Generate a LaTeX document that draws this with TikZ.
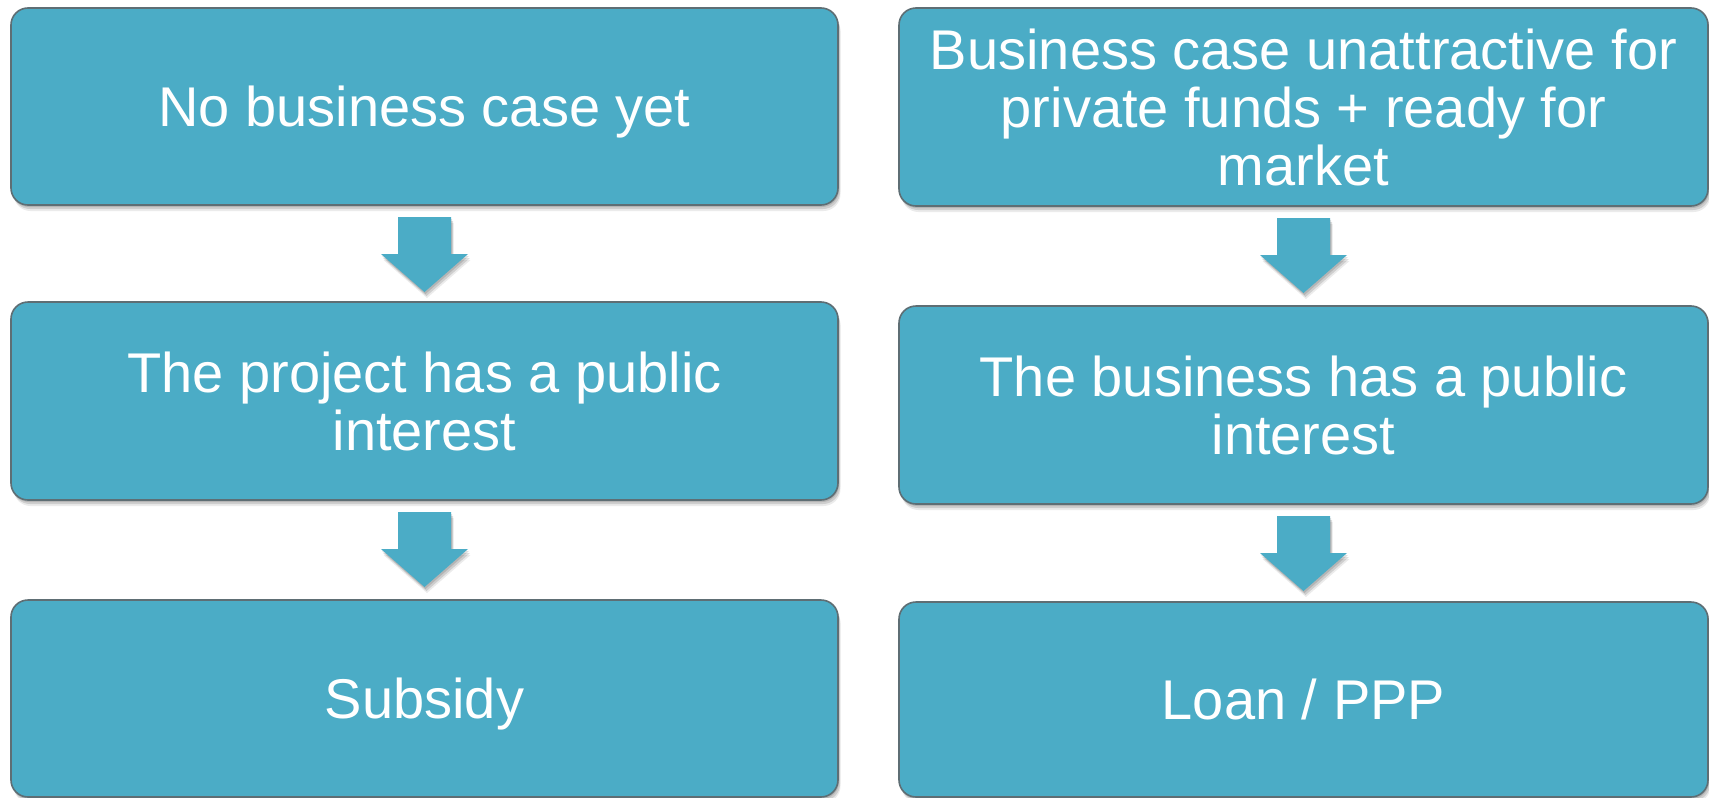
\documentclass[tikz,border=0pt]{standalone}
\usepackage{fontspec}
\setmainfont{Liberation Sans}
\usetikzlibrary{calc,shadows}
\definecolor{boxfill}{HTML}{4BACC6}
\definecolor{boxline}{HTML}{5E6E74}
\tikzset{
  softshadow/.style={
    general shadow={opacity=0.12, shadow xshift=1pt, shadow yshift=-2pt, fill=black},
    general shadow={opacity=0.12, shadow xshift=2pt, shadow yshift=-4pt, fill=black},
    general shadow={opacity=0.08, shadow xshift=2.5pt, shadow yshift=-6pt, fill=black}},
  flowbox/.style={draw=boxline, line width=1.6pt, fill=boxfill, rounded corners=17pt,
    outer sep=0pt, inner sep=0pt, align=center, text=white,
    font=\fontsize{56}{58}\selectfont, softshadow},
  oneline/.style={text height=40.3pt, text depth=0pt},
  blockarrow/.style={fill=boxfill, draw=none, softshadow}
}
\newcommand{\downarrowshape}[1]{%
  \path[blockarrow]
    ($(#1.south)+(-26.5,12)$) -- ($(#1.south)+(26.5,12)$) --
    ($(#1.south)+(26.5,49)$) -- ($(#1.south)+(43.5,49)$) --
    ($(#1.south)+(0,87)$) -- ($(#1.south)+(-43.5,49)$) --
    ($(#1.south)+(-26.5,49)$) -- cycle;}
\begin{document}
\begin{tikzpicture}[x=1pt,y=-1pt]
\useasboundingbox[fill=white] (0,0) rectangle (1709,798);
% left column
\node[flowbox, oneline, minimum width=827pt, minimum height=197pt] (l1) at (424.5,106.5) {No business case yet};
\node[flowbox, minimum width=827pt, minimum height=198pt] (l2) at (424.5,401) {The project has a public\\interest};
\node[flowbox, oneline, minimum width=827pt, minimum height=197pt] (l3) at (424.5,698.5) {Subsidy};
% right column
\node[flowbox, minimum width=809pt, minimum height=198pt] (r1) at (1303.5,107) {Business case unattractive for\\private funds + ready for\\market};
\node[flowbox, minimum width=809pt, minimum height=198pt] (r2) at (1303.5,405) {The business has a public\\interest};
\node[flowbox, oneline, minimum width=809pt, minimum height=195pt] (r3) at (1303.5,699.5) {Loan / PPP};
% block arrows
\downarrowshape{l1}
\downarrowshape{l2}
\downarrowshape{r1}
\downarrowshape{r2}
\end{tikzpicture}
\end{document}
